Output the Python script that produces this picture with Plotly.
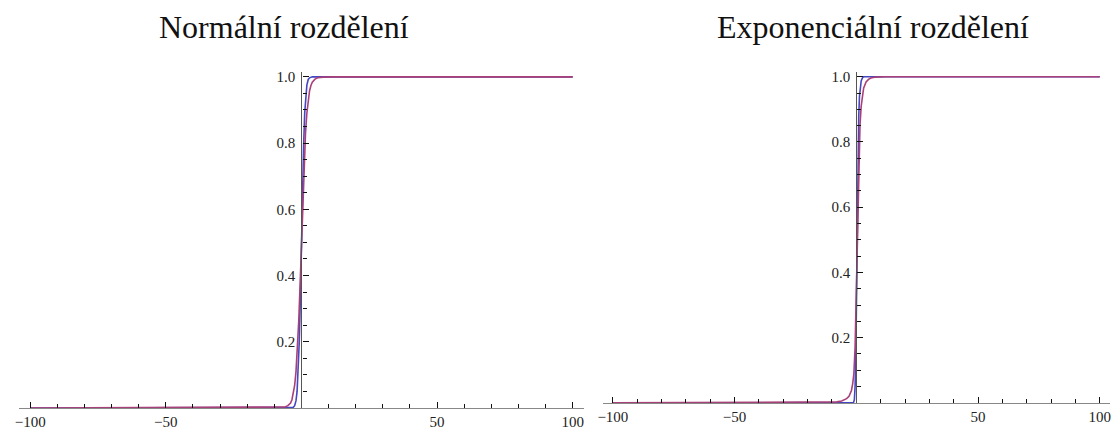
import plotly.graph_objects as go

# ---- data ----
titles = ["Normální rozdělení", "Exponenciální rozdělení"]

x_ticks = [-100, -50, 50, 100]
x_tick_labels = ["\u2212100", "\u221250", "50", "100"]
y_ticks = [0.2, 0.4, 0.6, 0.8, 1.0]
y_tick_labels = ["0.2", "0.4", "0.6", "0.8", "1.0"]

# Left panel (normal)
norm_blue_x = [-100, -4, -3, -2.5, -2, -1.6, -1.2, -0.8, -0.4, 0, 0.4, 0.8, 1.2,
               1.6, 2, 2.5, 3, 4, 100]
norm_blue_y = [0, 0, 0.002, 0.007, 0.022, 0.05, 0.11, 0.2, 0.33, 0.5, 0.66, 0.79,
               0.89, 0.945, 0.975, 0.992, 0.997, 1, 1]
norm_red_x = [-100, -8, -6, -5, -4, -3.5, -3, -2.5, -2, -1.5, -1, -0.5, 0, 0.5, 1,
              1.5, 2, 2.5, 3, 3.5, 4, 5, 6, 8, 12, 100]
norm_red_y = [0, 0.001, 0.003, 0.007, 0.015, 0.025, 0.042, 0.068, 0.11, 0.17, 0.26,
              0.37, 0.5, 0.63, 0.74, 0.83, 0.89, 0.932, 0.958, 0.974, 0.984, 0.993,
              0.997, 0.999, 1, 1]

# Right panel (exponential)
exp_blue_x = [-100, -1.2, -0.8, -0.5, -0.2, 0, 0.2, 0.4, 0.6, 0.8, 1, 1.3, 1.6,
              2, 2.5, 3, 100]
exp_blue_y = [0, 0, 0.01, 0.05, 0.15, 0.28, 0.43, 0.58, 0.71, 0.81, 0.88, 0.94,
              0.97, 0.987, 0.996, 1, 1]
exp_red_x = [-100, -10, -8, -6, -5, -4, -3, -2.5, -2, -1.5, -1, -0.5, 0, 0.5, 1,
             1.5, 2, 2.5, 3, 4, 5, 6, 8, 12, 100]
exp_red_y = [0, 0.001, 0.003, 0.006, 0.009, 0.013, 0.02, 0.027, 0.038, 0.058, 0.09,
             0.17, 0.33, 0.56, 0.74, 0.85, 0.91, 0.945, 0.965, 0.984, 0.992, 0.996,
             0.999, 1, 1]

BLUE = "#4646c0"
RED = "#a8407a"

W, H = 1113, 430

fig = go.Figure()
fig.add_trace(go.Scatter(x=norm_blue_x, y=norm_blue_y, mode="lines",
                         line=dict(color=BLUE, width=1.6), xaxis="x", yaxis="y"))
fig.add_trace(go.Scatter(x=norm_red_x, y=norm_red_y, mode="lines",
                         line=dict(color=RED, width=1.6), xaxis="x", yaxis="y"))
fig.add_trace(go.Scatter(x=exp_blue_x, y=exp_blue_y, mode="lines",
                         line=dict(color=BLUE, width=1.6), xaxis="x2", yaxis="y2"))
fig.add_trace(go.Scatter(x=exp_red_x, y=exp_red_y, mode="lines",
                         line=dict(color=RED, width=1.6), xaxis="x2", yaxis="y2"))

tickfont = dict(family="Liberation Serif, serif", size=15, color="#222")


def xaxis(domain, anchor):
    return dict(domain=domain, anchor=anchor, range=[-104, 104],
                showgrid=False, zeroline=False, showline=True,
                linecolor="#888", linewidth=1.2,
                tickmode="array", tickvals=x_ticks, ticktext=x_tick_labels,
                ticks="inside", ticklen=6, tickcolor="#111", tickwidth=1,
                tickfont=tickfont,
                minor=dict(tickmode="array",
                           tickvals=[v for v in range(-100, 101, 10) if v % 50 != 0],
                           ticks="inside", ticklen=4, tickcolor="#111", tickwidth=1))


def yaxis(domain, pos):
    return dict(domain=domain, anchor="free", position=pos, range=[0, 1.015],
                showgrid=False, zeroline=False, showline=True,
                linecolor="#555", linewidth=1.2,
                tickmode="array", tickvals=y_ticks, ticktext=y_tick_labels,
                ticks="inside", ticklen=6, tickcolor="#111", tickwidth=1,
                tickfont=tickfont, ticklabelstandoff=3,
                minor=dict(tickmode="array",
                           tickvals=[0.05, 0.1, 0.15, 0.25, 0.3, 0.35, 0.45, 0.5, 0.55,
                                     0.65, 0.7, 0.75, 0.85, 0.9, 0.95],
                           ticks="inside", ticklen=4, tickcolor="#111", tickwidth=1))


# pixel geometry
lx0, lx1 = 13.4, 581.2
rx0, rx1 = 600.9, 1110.5
fig.update_layout(
    width=W, height=H,
    margin=dict(l=0, r=0, t=0, b=0),
    paper_bgcolor="white", plot_bgcolor="white",
    showlegend=False,
    xaxis=xaxis([lx0 / W, lx1 / W], "y"),
    yaxis=yaxis([(H - 411.7) / H, (H - 70.0) / H], 297.3 / W),
    xaxis2=xaxis([rx0 / W, rx1 / W], "y2"),
    yaxis2=yaxis([(H - 406.5) / H, (H - 70.0) / H], 855.7 / W),
)

title_font = dict(family="Liberation Serif, serif", size=32, color="#111")
for tx, t in zip([280 / W, 872 / W], titles):
    fig.add_annotation(x=tx, y=(H - 24) / H, xref="paper", yref="paper",
                       text=t, showarrow=False, font=title_font,
                       xanchor="center", yanchor="middle")

fig.write_html("out.html")
